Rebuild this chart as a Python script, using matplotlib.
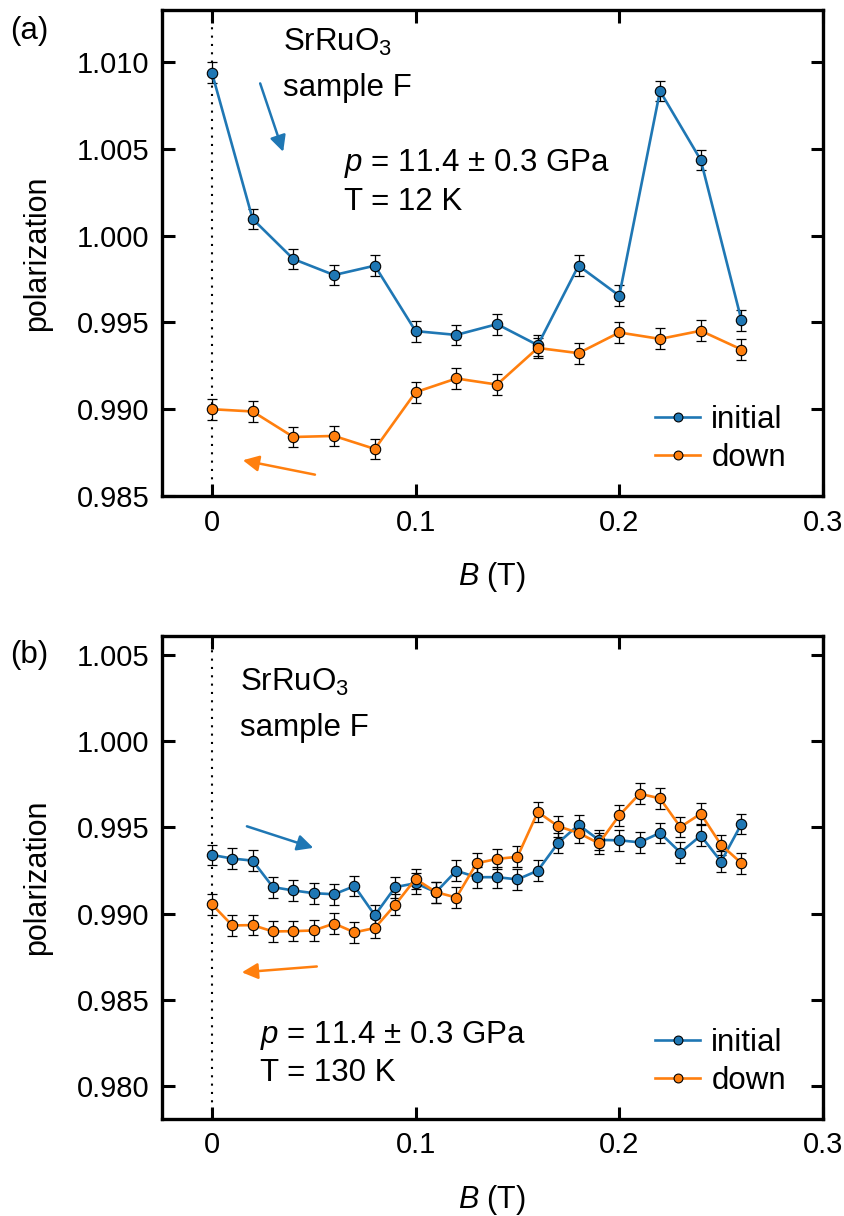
import matplotlib

matplotlib.use("Agg")
import matplotlib.pyplot as plt
import numpy as np

plt.rcParams["font.family"] = ["Liberation Sans", "DejaVu Sans"]
plt.rcParams["mathtext.fontset"] = "custom"
plt.rcParams["mathtext.rm"] = "Liberation Sans"
plt.rcParams["mathtext.it"] = "Liberation Sans:italic"

BLUE = "#1f77b4"
ORANGE = "#ff7f0e"

# panel (a): T = 12 K
b_a = [0.00, 0.02, 0.04, 0.06, 0.08, 0.10, 0.12, 0.14, 0.16, 0.18, 0.20, 0.22, 0.24, 0.26]
init_a = [1.00939, 1.00096, 0.99865, 0.99773, 0.99827, 0.99450, 0.99428, 0.99490,
          0.99369, 0.99827, 0.99654, 1.00833, 1.00436, 0.99512]
down_a = [0.99000, 0.98987, 0.98840, 0.98846, 0.98771, 0.99098, 0.99177, 0.99142,
          0.99353, 0.99323, 0.99442, 0.99405, 0.99452, 0.99344]
err_a = 0.0006

# panel (b): T = 130 K
b_b = [0.00, 0.01, 0.02, 0.03, 0.04, 0.05, 0.06, 0.07, 0.08, 0.09, 0.10, 0.11, 0.12, 0.13,
       0.14, 0.15, 0.16, 0.17, 0.18, 0.19, 0.20, 0.21, 0.22, 0.23, 0.24, 0.25, 0.26]
init_b = [0.99340, 0.99319, 0.99307, 0.99153, 0.99134, 0.99118, 0.99112, 0.99159, 0.98990,
          0.99153, 0.99176, 0.99124, 0.99248, 0.99211, 0.99211, 0.99198, 0.99249, 0.99410,
          0.99514, 0.99427, 0.99425, 0.99413, 0.99468, 0.99354, 0.99452, 0.99301, 0.99520]
down_b = [0.99054, 0.98931, 0.98933, 0.98896, 0.98898, 0.98902, 0.98942, 0.98891, 0.98916,
          0.99051, 0.99201, 0.99124, 0.99093, 0.99292, 0.99317, 0.99329, 0.99589, 0.99506,
          0.99468, 0.99407, 0.99569, 0.99695, 0.99668, 0.99502, 0.99579, 0.99398, 0.99292]
err_b = 0.0006

x_ticks = [0, 0.1, 0.2, 0.3]
x_ticklabels = ["0", "0.1", "0.2", "0.3"]
y_ticks_a = [0.985, 0.990, 0.995, 1.000, 1.005, 1.010]
y_ticks_b = [0.980, 0.985, 0.990, 0.995, 1.000, 1.005]

TICK_FS = 21
TEXT_FS = 22.5
LABEL_FS = 22


def draw_panel(ax, x, y_init, y_down, err, yticks, ylim):
    ax.axvline(0, color="black", ls=(0, (1, 3)), lw=1.5, zorder=1)
    handles = []
    for y, col, name in [(y_init, BLUE, "initial"), (y_down, ORANGE, "down")]:
        ax.errorbar(x, y, yerr=err, fmt="none", ecolor="black", elinewidth=0.9,
                    capsize=3.5, capthick=0.9, zorder=3)
        (ln,) = ax.plot(x, y, "-o", color=col, lw=1.9, ms=7.5, mfc=col,
                        mec="black", mew=0.8, zorder=4, label=name)
        handles.append(ln)

    ax.set_xlim(-0.0245, 0.3)
    ax.set_ylim(*ylim)
    ax.set_xticks(x_ticks)
    ax.set_xticklabels(x_ticklabels)
    ax.set_yticks(yticks)
    ax.set_yticklabels([f"{t:.3f}" for t in yticks])
    ax.tick_params(direction="in", length=9, width=2.2, labelsize=TICK_FS, pad=9,
                   top=True, right=True)
    for s in ax.spines.values():
        s.set_linewidth(2.4)
    ax.set_xlabel("$B$ (T)", fontsize=LABEL_FS, labelpad=17)
    ax.set_ylabel("polarization", fontsize=LABEL_FS, labelpad=18)
    ax.legend(handles=handles, loc="lower right", bbox_to_anchor=(0.944, 0.048),
              frameon=False, fontsize=TEXT_FS, handlelength=1.45, handletextpad=0.35,
              labelspacing=0.25, borderaxespad=0, borderpad=0, markerscale=0.85)


fig = plt.figure(figsize=(8.45, 12.16), dpi=100)
ax_a = fig.add_axes([0.1917, 0.5921, 0.7822, 0.3997])
ax_b = fig.add_axes([0.1917, 0.0800, 0.7822, 0.3970])

draw_panel(ax_a, b_a, init_a, down_a, err_a, y_ticks_a, (0.985, 1.013))
draw_panel(ax_b, b_b, init_b, down_b, err_b, y_ticks_b, (0.9781, 1.0061))

# annotations, panel (a)
ax_a.text(0.0350, 1.01064, "SrRuO$_3$", fontsize=TEXT_FS, va="baseline")
ax_a.text(0.0350, 1.00804, "sample F", fontsize=TEXT_FS, va="baseline")
ax_a.text(0.0647, 1.00375, "$p$ = 11.4 ± 0.3 GPa", fontsize=TEXT_FS, va="baseline")
ax_a.text(0.0647, 1.00150, "T = 12 K", fontsize=TEXT_FS, va="baseline")
ax_a.annotate("", xy=(0.0350, 1.00483), xytext=(0.0237, 1.00877),
              arrowprops=dict(arrowstyle="-|>", color=BLUE, lw=1.8, mutation_scale=24,
                              shrinkA=0, shrinkB=0))
ax_a.annotate("", xy=(0.0152, 0.98706), xytext=(0.0506, 0.98623),
              arrowprops=dict(arrowstyle="-|>", color=ORANGE, lw=1.8, mutation_scale=24,
                              shrinkA=0, shrinkB=0))

# annotations, panel (b)
ax_b.text(0.0138, 1.0029, "SrRuO$_3$", fontsize=TEXT_FS, va="baseline")
ax_b.text(0.0138, 1.0003, "sample F", fontsize=TEXT_FS, va="baseline")
ax_b.text(0.0237, 0.98250, "$p$ = 11.4 ± 0.3 GPa", fontsize=TEXT_FS, va="baseline")
ax_b.text(0.0237, 0.98026, "T = 130 K", fontsize=TEXT_FS, va="baseline")
ax_b.annotate("", xy=(0.0498, 0.99381), xytext=(0.0172, 0.99506),
              arrowprops=dict(arrowstyle="-|>", color=BLUE, lw=1.8, mutation_scale=24,
                              shrinkA=0, shrinkB=0))
ax_b.annotate("", xy=(0.0147, 0.98659), xytext=(0.0515, 0.98693),
              arrowprops=dict(arrowstyle="-|>", color=ORANGE, lw=1.8, mutation_scale=24,
                              shrinkA=0, shrinkB=0))

fig.text(0.012, 0.968, "(a)", fontsize=TEXT_FS)
fig.text(0.012, 0.455, "(b)", fontsize=TEXT_FS)

fig.savefig("out.png", dpi=100)
